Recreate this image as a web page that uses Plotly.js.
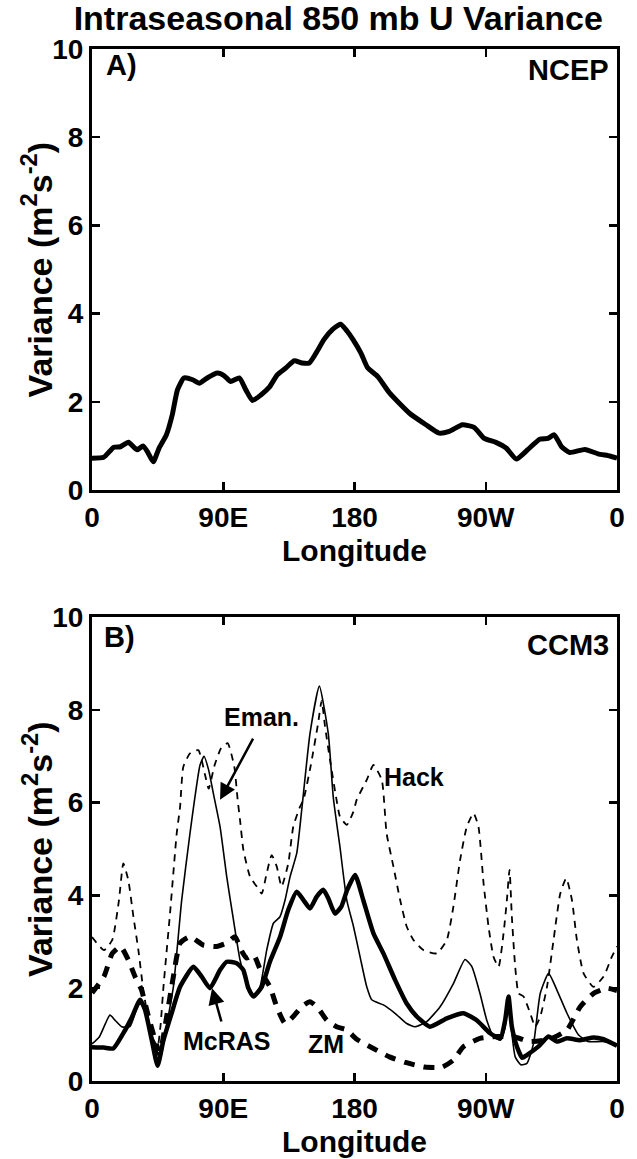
<!DOCTYPE html>
<html><head><meta charset="utf-8">
<script src="https://cdn.plot.ly/plotly-3.0.1.min.js"></script>
<style>html,body{margin:0;padding:0;background:#fff}</style>
</head><body><div id="chart" style="width:637px;height:1159px"></div>
<script>
// ---- tick labels ----
const lonTickVals = [0, 90, 180, 270, 360];
const lonTickText = ['0', '90E', '180', '90W', '0'];
const varTickVals = [0, 2, 4, 6, 8, 10];

// ---- Panel A: NCEP ----
const ncepLon = [0,8,15,19.5,25,31,35,38,42,46,51,55,58.6,63,69,73.5,79,86,90.7,95,101,105.5,110,116,121.6,127,133,138.7,144,149,155,159,165,170.5,175,179,184.5,189,196,204,217.7,229,238,245,254,262,269,277,284,291,299,307,312.7,317,322,327.6,338,347,355,360];
const ncepVar = [0.72,0.74,0.97,0.98,1.08,0.91,1.0,0.87,0.64,0.95,1.25,1.7,2.27,2.54,2.5,2.42,2.54,2.65,2.59,2.46,2.54,2.27,2.03,2.16,2.33,2.61,2.77,2.93,2.88,2.88,3.18,3.41,3.64,3.76,3.6,3.41,3.1,2.77,2.57,2.2,1.74,1.48,1.29,1.33,1.48,1.42,1.17,1.08,0.95,0.70,0.92,1.15,1.17,1.25,0.98,0.85,0.92,0.82,0.77,0.72];

// ---- Panel B: CCM3 ----
const mcrasLon = [0,8,14.6,21.5,27,33,36.4,41,45,49,54.6,60.4,69.5,75.2,80.9,87.8,92.4,99.2,103.8,107.2,110.7,116.4,122,129,134.6,140.4,145,149.5,154,158.6,162,166.6,171,175,180.4,186,193,199.8,207.8,215.8,222.7,231.8,243.3,254.7,263.8,273,280,283.3,285.6,287.9,291.4,295,298.2,306,313,318.8,325.7,334.8,344,350.8,360];
const mcrasVar = [0.73,0.72,0.70,1.03,1.35,1.75,1.53,0.88,0.33,0.88,1.46,2.03,2.46,2.25,2.0,2.39,2.57,2.54,2.39,2.0,1.82,2.03,2.57,3.11,3.69,4.08,3.9,3.72,3.97,4.12,3.94,3.61,3.76,4.12,4.44,3.9,3.18,2.75,2.18,1.67,1.39,1.17,1.35,1.46,1.31,1.03,0.92,1.31,1.82,1.17,0.74,0.5,0.56,0.74,0.96,0.85,0.92,0.88,0.94,0.90,0.76];

const emanLon = [0,5,12.3,15.8,20.3,26,31.8,35.2,39.8,44.4,47,50,55.8,61.5,67.2,70.5,74,76.8,80,83.2,87.8,92.4,97,101.5,106,110.7,115.2,119.8,124.4,128.9,132.4,135.8,140.4,143.8,149.5,155.9,162,165.5,170,174.7,179.3,183.8,188.4,191.8,199.8,207.8,215.8,221.5,229.5,238.7,247.8,255.8,260.4,266,270.7,275.3,279.9,283.3,285.6,287.9,290.2,294,298.2,302.8,307.4,313.1,318.8,325.7,333.7,340,350,360];
const emanVar = [0.8,0.95,1.42,1.31,1.17,1.17,1.64,1.67,1.17,0.6,0.5,1.0,2.03,3.9,5.34,6.1,6.8,7.0,6.7,6.2,5.48,4.4,3.47,2.61,2.1,1.82,2.03,2.82,3.4,3.54,3.9,4.4,4.91,5.84,7.49,8.51,7.49,6.1,5.05,3.9,3.33,2.68,2.03,1.75,1.64,1.46,1.24,1.17,1.28,1.6,2.1,2.62,2.47,1.89,1.31,0.96,0.88,1.17,1.75,1.03,0.52,0.35,0.38,0.81,1.89,2.32,1.96,1.46,0.99,0.85,0.85,0.8];

const hackLon = [0,8.2,13.9,18.5,21.5,24.9,28.4,31.8,35.2,38.7,42.1,45,47,49,53.5,58.1,60.4,62.6,67.2,72.9,77.5,80,84,88.5,93,97.6,99.9,101.5,103.8,108.4,113,116.4,119.8,123.2,126.7,130,134.6,138,142.6,145,150,155,157.5,159.8,163.2,167.7,170,174.7,179.2,181.5,188.4,193,198.7,202,206.7,211.3,215.8,220.4,227.3,236.4,243.3,247.8,252.4,257,261.6,265,268.5,271.9,275.3,278.8,282.2,284.5,286.3,287.9,290.2,292.5,295.9,300.5,303.9,307.4,312,316.5,321.1,325.2,329.1,332.5,337.1,343.9,350.8,356.5,360];
const hackVar = [3.1,2.82,3.04,3.9,4.69,4.33,3.54,2.82,1.96,1.31,0.9,0.75,1.2,2.03,3.61,5.34,5.91,6.77,7.06,7.13,6.6,6.3,6.8,7.17,7.28,6.77,6.05,5.63,4.98,4.4,4.19,4.04,4.48,4.87,4.62,4.19,4.69,5.48,5.91,6.06,6.8,7.7,8.2,7.64,6.92,6.06,5.7,5.52,5.8,6.06,6.49,6.81,6.49,5.34,4.62,3.9,3.33,3.04,2.82,2.75,3.04,3.76,4.76,5.48,5.77,5.48,4.26,3.33,2.68,2.46,3.18,3.9,4.55,3.54,2.46,1.89,1.82,1.46,1.17,1.39,2.03,3.04,4.04,4.37,3.9,3.04,2.32,2.03,2.25,2.68,2.9];

const zmLon = [0,8.2,13.9,19.6,24.9,29.5,34,38.7,43.3,46.5,51.2,55.8,60.4,67.2,76.3,85.4,92.3,98,102.6,106,110.7,116.4,122,126.7,132.4,138,143.8,149.5,155,161,167.7,174.7,181.5,193,204,215,228,240,247.8,254.7,266,277.5,290,300,314,325.7,334.8,344,353,360];
const zmVar = [1.9,2.25,2.75,2.9,2.61,2.25,1.96,1.39,0.88,0.6,1.39,2.25,2.97,3.11,2.93,2.9,2.97,3.11,2.8,2.65,2.72,2.32,2.03,1.6,1.24,1.39,1.6,1.71,1.57,1.31,1.17,1.1,0.9,0.7,0.52,0.4,0.3,0.3,0.45,0.74,0.92,0.96,0.95,0.85,0.9,1.1,1.6,1.89,2.0,1.95];

const FONT = 'Liberation Sans, Arial, Helvetica, sans-serif';
const BLACK = '#000';

function ln(x, y, xa, ya, width, dash) {
  return {x: x, y: y, xaxis: xa, yaxis: ya, type: 'scatter', mode: 'lines',
    line: {color: BLACK, width: width, dash: dash || 'solid', shape: 'spline', smoothing: 0.5},
    hoverinfo: 'skip', showlegend: false};
}

const traces = [
  ln(ncepLon, ncepVar, 'x', 'y', 5),
  ln(hackLon, hackVar, 'x2', 'y2', 1.8, '7px,6px'),
  ln(zmLon, zmVar, 'x2', 'y2', 5, '11px,9px'),
  ln(emanLon, emanVar, 'x2', 'y2', 1.6),
  ln(mcrasLon, mcrasVar, 'x2', 'y2', 4.5)
];

const tickFont = {family: FONT, size: 28, color: BLACK, weight: 'bold'};
function xax(anchor) {
  return {anchor: anchor, domain: [0, 1], range: [0, 360], tickvals: lonTickVals, ticktext: lonTickText,
    ticks: 'inside', ticklen: 8, tickwidth: 2.5, tickcolor: BLACK, showline: true, linewidth: 3,
    linecolor: BLACK, mirror: 'ticks', showgrid: false, zeroline: false, tickfont: tickFont, fixedrange: true};
}
function yax(anchor, domain) {
  return {anchor: anchor, domain: domain, range: [0, 10], tickvals: varTickVals,
    ticks: 'inside', ticklen: 8, tickwidth: 2.5, tickcolor: BLACK, showline: true, linewidth: 3,
    linecolor: BLACK, mirror: 'ticks', showgrid: false, zeroline: false, tickfont: tickFont, fixedrange: true};
}

function txt(text, x, y, xref, yref, size, xanchor, yanchor, angle) {
  return {text: '<b>' + text + '</b>', x: x, y: y, xref: xref, yref: yref, showarrow: false,
    xanchor: xanchor || 'center', yanchor: yanchor || 'middle', textangle: angle || 0,
    font: {family: FONT, size: size, color: BLACK}};
}
function arrow(hx, hy, tx, ty) {
  return {text: '', x: hx, y: hy, ax: tx, ay: ty, xref: 'x2', yref: 'y2', axref: 'x2', ayref: 'y2',
    showarrow: true, arrowhead: 2, arrowsize: 1.3, arrowwidth: 2.5, arrowcolor: BLACK};
}

const yTitle = 'Variance (m<sup>2</sup>s<sup>-2</sup>)';
const annotations = [
  txt('A)', 0.022, 0.963, 'x domain', 'y domain', 29, 'left', 'middle'),
  txt('NCEP', 0.988, 0.952, 'x domain', 'y domain', 29, 'right', 'middle'),
  txt('B)', 0.019, 0.957, 'x2 domain', 'y2 domain', 29, 'left', 'middle'),
  txt('CCM3', 0.988, 0.94, 'x2 domain', 'y2 domain', 29, 'right', 'middle'),
  txt(yTitle, -0.105, 0.7863, 'paper', 'paper', 34, 'center', 'middle', -90),
  txt(yTitle, -0.105, 0.2248, 'paper', 'paper', 34, 'center', 'middle', -90),
  txt('Longitude', 0.5, 0.5145, 'paper', 'paper', 30, 'center', 'middle'),
  txt('Longitude', 0.5, -0.0585, 'paper', 'paper', 30, 'center', 'middle'),
  txt('Eman.', 116, 7.85, 'x2', 'y2', 25),
  txt('Hack', 199, 6.55, 'x2', 'y2', 25, 'left', 'middle'),
  txt('McRAS', 92.5, 0.86, 'x2', 'y2', 25),
  txt('ZM', 160.5, 0.8, 'x2', 'y2', 25),
  arrow(87.8, 6.06, 111, 7.41),
  arrow(82.3, 2.0, 89, 1.25)
];

const layout = {
  width: 637, height: 1159,
  margin: {l: 92, r: 20, t: 49, b: 78},
  paper_bgcolor: '#fff', plot_bgcolor: '#fff',
  title: {text: '<b>Intraseasonal 850 mb U Variance</b>', xref: 'container', yref: 'container',
    x: 0.531, y: 1 - 18 / 1159, xanchor: 'center', yanchor: 'middle',
    font: {family: FONT, size: 34, color: BLACK}},
  xaxis: xax('y'),
  yaxis: yax('x', [0.5727, 1]),
  xaxis2: xax('y2'),
  yaxis2: yax('x2', [0, 0.4496]),
  annotations: annotations,
  showlegend: false
};

Plotly.newPlot('chart', traces, layout, {displayModeBar: false, staticPlot: true});
</script>
</body></html>
